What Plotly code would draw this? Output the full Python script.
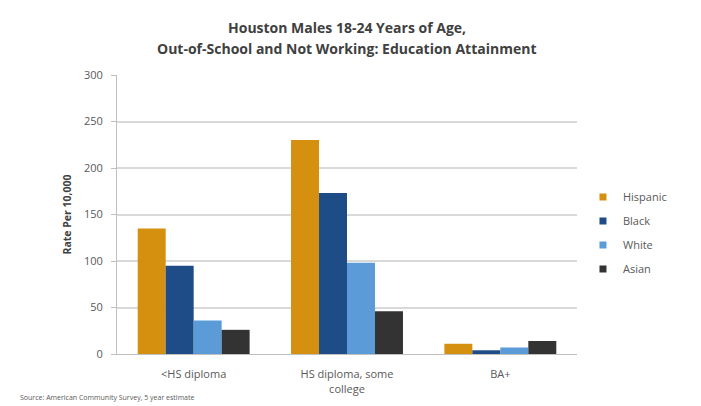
import plotly.graph_objects as go

categories = ["<HS diploma", "HS diploma, some<br>college", "BA+"]
hispanic = [135, 230, 11]
black = [95, 173, 4]
white = [36, 98, 7]
asian = [26, 46, 14]
series_names = ["Hispanic", "Black", "White", "Asian"]
colors = ["#D4900E", "#1E4C86", "#5B9BD8", "#333333"]
y_ticks = [0, 50, 100, 150, 200, 250, 300]

fig = go.Figure()
for name, vals, col in zip(series_names, [hispanic, black, white, asian], colors):
    fig.add_trace(go.Bar(x=categories, y=vals, name=name, marker_color=col,
                         marker_line_width=0, showlegend=False))
# small square legend keys
for name, col in zip(series_names, colors):
    fig.add_trace(go.Scatter(x=[None], y=[None], mode="markers", name=name,
                             legendgroup=name,
                             marker=dict(symbol="square", size=7, color=col)))

font_family = "Open Sans, Liberation Sans, sans-serif"
fig.update_layout(
    width=701, height=406,
    margin=dict(l=117, r=124, t=75, b=52),
    paper_bgcolor="white", plot_bgcolor="white",
    barmode="group", bargap=0.27, bargroupgap=0,
    font=dict(family=font_family, color="#595959", size=11),
    legend=dict(x=1.013, xanchor="left", y=0.434, yanchor="middle",
                font=dict(size=11, color="#595959"), tracegroupgap=5,
                itemwidth=30, traceorder="grouped"),
    showlegend=True,
)
title_font = dict(size=14, color="#404040", family=font_family)
fig.add_annotation(text="<b>Houston Males 18-24 Years of Age,</b>", xref="paper", yref="paper",
                   x=0.5, y=1.0, yshift=48, xanchor="center", yanchor="middle",
                   showarrow=False, font=title_font)
fig.add_annotation(text="<b>Out-of-School and Not Working: Education Attainment</b>",
                   xref="paper", yref="paper", x=0.5, y=1.0, yshift=27,
                   xanchor="center", yanchor="middle", showarrow=False, font=title_font)

fig.update_yaxes(range=[0, 300], tickvals=y_ticks, showgrid=True, gridcolor="#D9D9D9",
                 gridwidth=1.5, showline=True, linecolor="#BFBFBF", linewidth=1,
                 ticks="outside", ticklen=5, tickcolor="#BFBFBF",
                 ticklabelstandoff=6, automargin=False,
                 tickfont=dict(size=11, color="#595959"),
                 title=dict(text="<b>Rate Per 10,000</b>", font=dict(size=10.5, color="#404040"),
                            standoff=10),
                 zeroline=False)
fig.update_xaxes(showline=True, linecolor="#BFBFBF", linewidth=1,
                 tickfont=dict(size=11, color="#595959"), ticks="",
                 ticklabelstandoff=10, automargin=False)

fig.add_annotation(text="Source: American Community Survey, 5 year estimate",
                   xref="paper", yref="paper", x=-0.215, y=-0.155, xanchor="left",
                   yanchor="middle", showarrow=False, font=dict(size=7, color="#595959"))

fig.write_html("out.html")
